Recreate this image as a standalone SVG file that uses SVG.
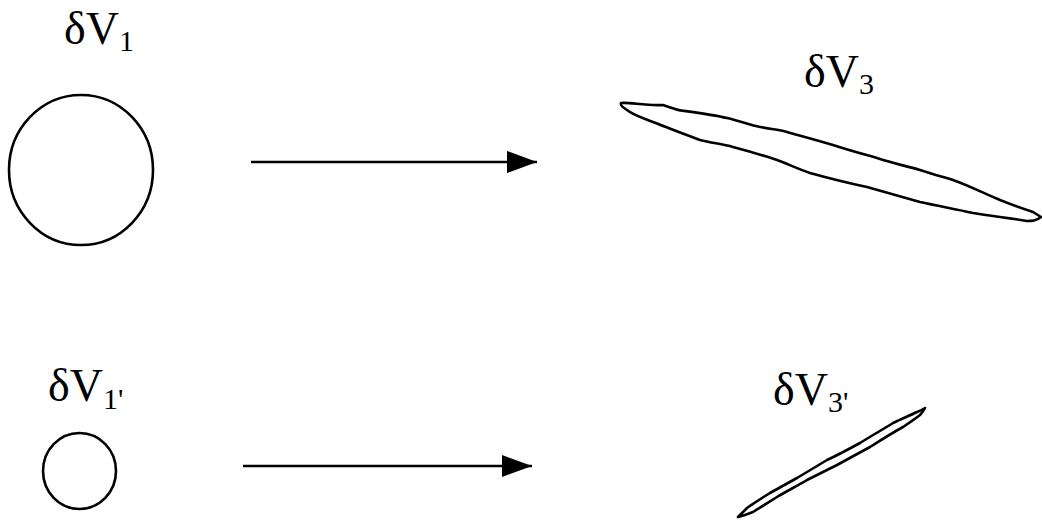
<svg xmlns="http://www.w3.org/2000/svg" width="1042" height="520" viewBox="0 0 1042 520">
<defs>
<style>
.lbl{font-family:"Liberation Serif","Times New Roman",serif;font-size:46px;fill:#000}
.sub{font-size:30px}
.shape{fill:none;stroke:#000;stroke-width:2.6;stroke-linejoin:round}
.conn{stroke:#000;stroke-width:2.6;fill:none}
</style>
<marker id="ah" viewBox="0 0 30 22" refX="30" refY="11" markerWidth="30" markerHeight="22" markerUnits="userSpaceOnUse" orient="auto">
<path d="M0,0 L30,11 L0,22 Z" fill="#000"/>
</marker>
</defs>
<rect width="1042" height="520" fill="#fff"/>
<g id="node-v1">
<ellipse class="shape" cx="81" cy="170" rx="72" ry="75"/>
<text class="lbl" x="64" y="44">δV<tspan class="sub" dy="7">1</tspan></text>
</g>
<g id="node-v3">
<path class="shape" d="M621,103 C630,102 645,106 663,105 C670,107 675,110 683,110.7 C700,113 715,115 727,118 C740,121 750,125 760,127 C770,129 780,130 787,132 C805,137 820,141 833,145 C848,150 863,154 877,158 C892,163 906,166 920,170 C932,174 943,177 953,180 C970,186 985,194 1000,200 C1012,205 1024,209 1033,212 L1041,217 C1036,221 1032,221 1027,221 C1010,218 990,216 973,213 C955,209 938,206 920,202 C902,197 885,192 867,187 C848,183 828,178 810,173 C798,169 788,164 777,160 C762,155 748,151 733,147 C722,144 712,143 700,140 C684,134 668,128 653,122 C643,118 633,115 627,110 C622,107 620,105 621,103 Z"/>
<text class="lbl" x="804" y="87">δV<tspan class="sub" dy="7">3</tspan></text>
</g>
<g id="node-v1p">
<ellipse class="shape" cx="79.5" cy="471" rx="36.5" ry="38"/>
<text class="lbl" x="48" y="401">δV<tspan class="sub" dy="8">1'</tspan></text>
</g>
<g id="node-v3p">
<path class="shape" d="M925,408 C922,410 920,411 917,412 C909,416 901,419 893,423 C882,430 871,436 860,443 C849,449 838,455 827,460 C817,466 807,472 797,478 C788,483 779,488 770,493 C762,498 754,503 747,508 L738,517 C743,516 748,514 753,512 C761,507 769,502 777,497 C787,491 797,486 807,480 C817,475 827,470 837,465 C848,459 859,453 870,447 C881,440 892,433 903,427 C909,423 915,419 920,415 C922,413 924,410 925,408 Z"/>
<text class="lbl" x="773" y="405">δV<tspan class="sub" dy="7">3'</tspan></text>
</g>
<g id="connectors">
<line class="conn" x1="251" y1="162" x2="537" y2="162" marker-end="url(#ah)"/>
<line class="conn" x1="243" y1="466" x2="532" y2="466" marker-end="url(#ah)"/>
</g>
</svg>
